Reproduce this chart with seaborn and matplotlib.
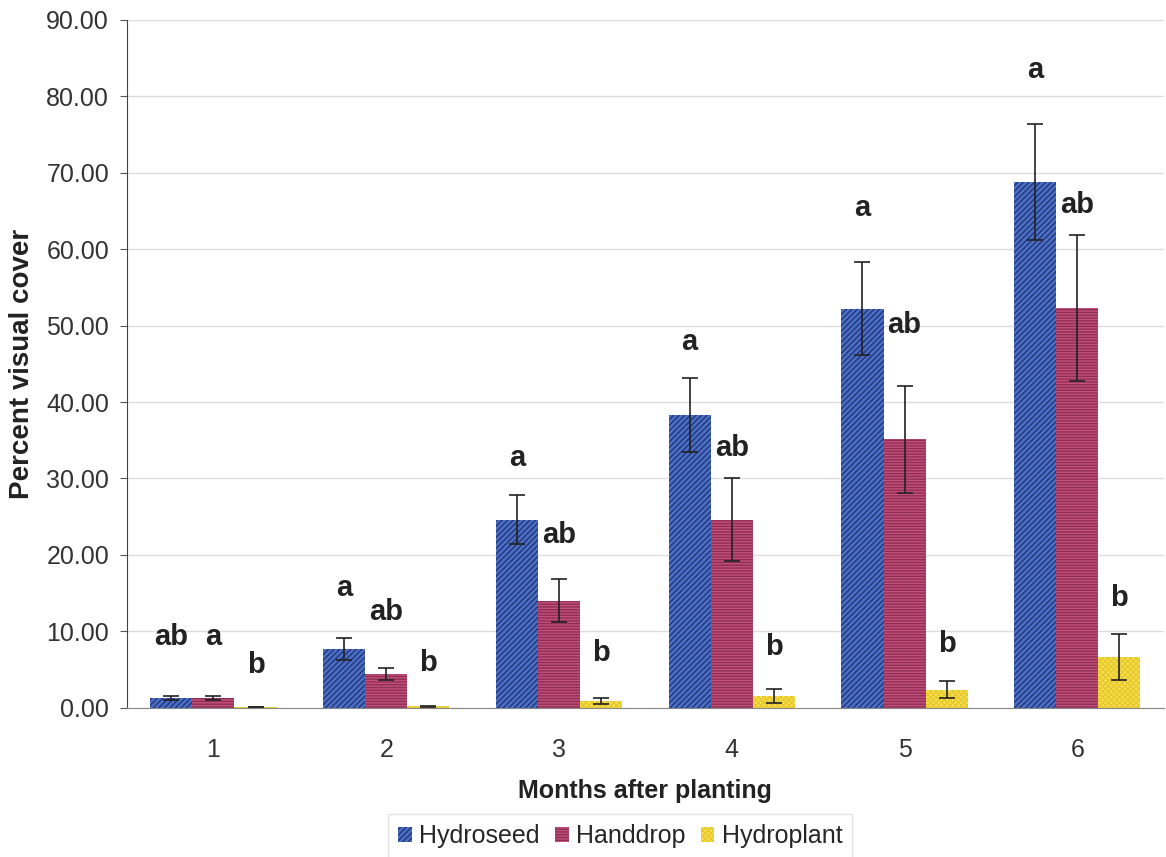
"""
Percent visual cover by month and planting method
"""

import pandas as pd
import matplotlib.pyplot as plt
import seaborn as sns
import numpy as np

sns.set_style("white")
plt.rcParams['font.family'] = ['Liberation Sans', 'DejaVu Sans']
plt.rcParams['hatch.linewidth'] = 1.0

# Datos
meses = ['1', '2', '3', '4', '5', '6']
metodos = ['Hydroseed', 'Handdrop', 'Hydroplant']
hydroseed = [1.3, 7.7, 24.6, 38.3, 52.2, 68.8]
handdrop = [1.3, 4.4, 14.0, 24.6, 35.1, 52.3]
hydroplant = [0.05, 0.2, 0.9, 1.6, 2.4, 6.7]
err_hydroseed = [0.3, 1.5, 3.2, 4.8, 6.1, 7.6]
err_handdrop = [0.3, 0.8, 2.8, 5.4, 7.0, 9.6]
err_hydroplant = [0.0, 0.1, 0.4, 0.9, 1.1, 3.0]
letras_hydroseed = ['ab', 'a', 'a', 'a', 'a', 'a']
letras_handdrop = ['a', 'ab', 'ab', 'ab', 'ab', 'ab']
letras_hydroplant = ['b', 'b', 'b', 'b', 'b', 'b']
altura_hydroseed = [7.4, 13.9, 30.9, 46.0, 63.6, 81.6]
altura_handdrop = [7.4, 10.7, 20.8, 32.2, 48.2, 63.9]
altura_hydroplant = [3.8, 4.1, 5.4, 6.1, 6.5, 12.6]

colores = {'Hydroseed': '#4a6fc4', 'Handdrop': '#c4507a', 'Hydroplant': '#f5e04a'}
hatch_col = {'Hydroseed': '#24367a', 'Handdrop': '#8e2f55', 'Hydroplant': '#e8c830'}
hatches = {'Hydroseed': '//////', 'Handdrop': '------', 'Hydroplant': 'xxxxxx'}

df = pd.DataFrame({
    'mes': meses * 3,
    'metodo': np.repeat(metodos, len(meses)),
    'cover': hydroseed + handdrop + hydroplant,
    'err': err_hydroseed + err_handdrop + err_hydroplant,
    'letra': letras_hydroseed + letras_handdrop + letras_hydroplant,
    'altura': altura_hydroseed + altura_handdrop + altura_hydroplant,
})

fig, ax = plt.subplots(figsize=(11.66, 8.57), dpi=100)
sns.barplot(data=df, x='mes', y='cover', hue='metodo', hue_order=metodos,
            palette=colores, width=0.73, errorbar=None, ax=ax, legend=False,
            saturation=1)

# patrones, barras de error y letras
for cont, metodo in zip(ax.containers, metodos):
    sub = df[df['metodo'] == metodo]
    for bar, (_, fila) in zip(cont, sub.iterrows()):
        bar.set_hatch(hatches[metodo])
        bar.set_edgecolor(hatch_col[metodo])
        bar.set_linewidth(0)
        xc = bar.get_x() + bar.get_width() / 2
        ax.errorbar(xc, fila['cover'], yerr=fila['err'], fmt='none',
                    ecolor='#222222', elinewidth=1.2, capsize=6, capthick=1.2)
        ax.text(xc, fila['altura'], fila['letra'], ha='center', va='bottom',
                fontsize=21, fontweight='bold', color='#222222')

ax.set_xlim(-0.5, len(meses) - 0.5)
ax.set_ylim(0, 90)
ax.set_yticks(np.arange(0, 91, 10))
ax.set_yticklabels([f'{v:.2f}' for v in np.arange(0, 91, 10)], fontsize=18,
                   color='#333333')
ax.tick_params(axis='x', labelsize=18, length=0, pad=22, labelcolor='#333333')
ax.tick_params(axis='y', left=True, length=5, color='#555555', pad=8)
ax.yaxis.grid(True, color='#dddddd', linewidth=1)
ax.set_axisbelow(True)
for s in ['top', 'right']:
    ax.spines[s].set_visible(False)
ax.spines['left'].set_color('#444444')
ax.spines['bottom'].set_color('#888888')

ax.set_xlabel('Months after planting', fontsize=18, fontweight='bold',
              color='#222222')
ax.xaxis.set_label_coords(0.5, -0.104)
ax.set_ylabel('Percent visual cover', fontsize=20, fontweight='bold', labelpad=8,
              color='#222222')

handles = [plt.Rectangle((0, 0), 1, 1, facecolor=colores[m], edgecolor=hatch_col[m],
                         hatch=hatches[m], linewidth=0) for m in metodos]
leg = fig.legend(handles, metodos, loc='lower center', bbox_to_anchor=(0.532, -0.016),
                 ncol=3, fontsize=18, frameon=True, handlelength=0.55, handleheight=0.55,
                 handletextpad=0.3, columnspacing=0.6, fancybox=False, borderpad=0.4)
leg.get_frame().set_edgecolor('#dddddd')

plt.subplots_adjust(left=0.109, right=0.998, top=0.977, bottom=0.174)
plt.savefig('out.png', dpi=100)
plt.close()
